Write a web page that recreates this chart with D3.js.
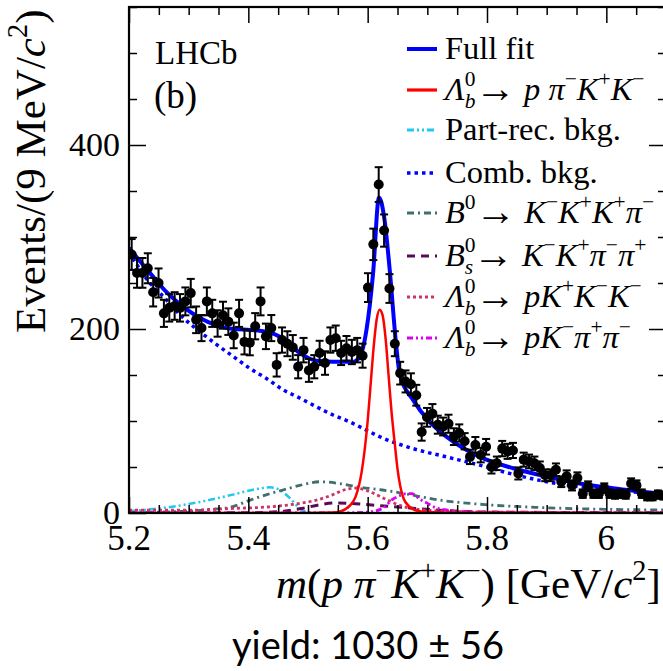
<!DOCTYPE html>
<html><head><meta charset="utf-8">
<script src="https://cdn.jsdelivr.net/npm/d3@7"></script>
<style>body{margin:0;background:#fff}</style>
</head><body>
<svg id="c" width="663" height="671"></svg>
<script>
// ---------------- DATA ----------------
const binStart = 5.2, binWidth = 0.009;
const counts = [281,261,261,266,240,250,217,223,225,223,230,239,210,201,230,217,206,215,208,193,
217,186,185,203,230,192,201,161,188,184,180,159,177,155,159,174,163,188,190,174,
179,175,177,171,245,292,357,307,244,184,152,143,140,128,88,104,108,96,94,97,
83,87,78,61,74,63,72,50,54,70,67,68,43,58,56,54,49,41,41,47,
34,40,30,38,21,29,21,21,27,21,20,21,20,32,30,21,18,18,20,19];

const fullM = [5.20,5.235,5.263,5.291,5.319,5.347,5.375,5.403,5.431,5.458,5.486,5.514,5.542,5.576,5.587,5.598,5.609,5.619,5.628,5.637,5.648,5.654,5.676,5.704,5.732,5.788,5.844,5.900,5.955,6.011,6.10];
const fullV = [288,261,240,224,212,204,200,199,197,190,174,165.5,164.5,164.5,170,199,260,343,320,264,181,150,123,99,83,61,48.6,39.5,32,27,20.5];

const sigM = [5.20,5.50,5.54,5.555,5.57,5.58,5.59,5.60,5.605,5.61,5.615,5.62,5.625,5.63,5.635,5.64,5.645,5.65,5.66,5.67,5.68,5.70,5.75,6.10];
const sigV = [0,0,0.5,2,8,18,45,100,140,180,210,221,215,190,150,110,78,48,16,7,3,1,0.3,0];

const combM = [5.20,5.235,5.252,5.291,5.319,5.347,5.375,5.403,5.431,5.458,5.486,5.514,5.542,5.570,5.592,5.620,5.676,5.732,5.788,5.844,5.900,5.955,6.011,6.10];
const combV = [284,250,239,212,197,183,170,157,146,134,125,115.5,106.5,99,92,83,70,61,52,42,34,28.6,25,19.5];

const partM = [5.20,5.263,5.319,5.374,5.414,5.436,5.453,5.470,5.486,5.50,5.52,6.10];
const partV = [2,6,12,20,26,28,25,16,5,1,0,0];

const b0M = [5.20,5.30,5.33,5.374,5.403,5.431,5.458,5.486,5.520,5.553,5.587,5.625,5.654,5.721,5.799,5.888,6.000,6.10];
const b0V = [0.5,2,3.5,7,14,20,25,30,34,32,28,25,22,14,9,6,4,3.3];

const bsM = [5.20,5.40,5.46,5.49,5.52,5.55,5.58,5.62,5.66,5.72,5.80,6.10];
const bsV = [0,0.3,2,5,9,11,10,8,6,3,1,0.3];

const pkkM = [5.20,5.30,5.374,5.431,5.486,5.514,5.542,5.56,5.58,5.60,5.63,5.66,5.70,5.80,6.10];
const pkkV = [3,3,5,6.5,10.5,14,20,25,27,24,15,7,3,1,0.3];

const pkpM = [5.20,5.55,5.60,5.625,5.642,5.648,5.665,5.674,5.687,5.699,5.713,5.738,5.776,5.85,6.10];
const pkpV = [0,0,1,5,15,17,21,21,15,11,6,3,1,0.3,0];

const xMajor = [5.2,5.4,5.6,5.8,6.0];
const xLabels = ["5.2","5.4","5.6","5.8","6"];
const yMajor = [0,200,400];
const yLabels = ["0","200","400"];

// ---------------- CHART ----------------
const svg = d3.select('#c');
svg.append('rect').attr('width',663).attr('height',671).attr('fill','#fff');
const L=129, R=666, T=7, B=513;
const x = d3.scaleLinear().domain([5.2,6.1]).range([L,R]);
const y = d3.scaleLinear().domain([0,550]).range([B,T]);
const serif = "'Liberation Serif','Times New Roman',serif";

svg.append('clipPath').attr('id','clip').append('rect')
  .attr('x',L).attr('y',T).attr('width',R-L).attr('height',B-T);
const plot = svg.append('g').attr('clip-path','url(#clip)');

function curve(M,V,color,width,dash){
  const pts = M.map((m,i)=>[m,V[i]]);
  plot.append('path').datum(pts)
    .attr('d', d3.line().x(d=>x(d[0])).y(d=>y(d[1])).curve(d3.curveMonotoneX))
    .attr('fill','none').attr('stroke',color).attr('stroke-width',width)
    .attr('stroke-dasharray',dash||null);
}
const styles = {
  full:['#0000ff',4,null],
  sig:['#ff0000',2.5,null],
  part:['#1ec8f0',2.5,'7,3,2,3,2,3'],
  comb:['#0000ff',3.5,'3.5,4'],
  b0:['#3f6f6f',2.8,'7,4,2,4'],
  bs:['#5a0a5a',3,'8,6'],
  pkk:['#cc3366',2.8,'3,3'],
  pkp:['#dd00ee',2.8,'6,3,2,3,2,3']
};
curve(combM,combV,...styles.comb);
curve(partM,partV,...styles.part);
curve(b0M,b0V,...styles.b0);
curve(bsM,bsV,...styles.bs);
curve(pkkM,pkkV,...styles.pkk);
curve(pkpM,pkpV,...styles.pkp);
curve(sigM,sigV,...styles.sig);
curve(fullM,fullV,...styles.full);

// data points
const data = counts.map((c,i)=>({m:binStart+binWidth*(i+0.5), c:c, e:Math.sqrt(c)}));
const dg = plot.append('g');
data.forEach(d=>{
  const cx=x(d.m), y1=y(d.c+d.e), y2=y(d.c-d.e);
  dg.append('line').attr('x1',cx).attr('x2',cx).attr('y1',y1).attr('y2',y2).attr('stroke','#000').attr('stroke-width',2);
  dg.append('line').attr('x1',cx-4).attr('x2',cx+4).attr('y1',y1).attr('y2',y1).attr('stroke','#000').attr('stroke-width',2);
  dg.append('line').attr('x1',cx-4).attr('x2',cx+4).attr('y1',y2).attr('y2',y2).attr('stroke','#000').attr('stroke-width',2);
  dg.append('circle').attr('cx',cx).attr('cy',y(d.c)).attr('r',5).attr('fill','#000');
});

// axes
const xMinor = d3.range(5.2,6.1001,0.05).map(v=>+v.toFixed(2)).filter(v=>!xMajor.some(m=>Math.abs(m-v)<1e-6));
const yMinor = d3.range(0,551,50).filter(v=>!yMajor.includes(v));
function ax(g){ g.selectAll('.domain').remove(); g.selectAll('line').attr('stroke','#000').attr('stroke-width',1.5); g.selectAll('text').remove(); }
svg.append('g').attr('transform',`translate(0,${B})`).call(d3.axisBottom(x).tickValues(xMajor).tickSize(-16)).call(ax);
svg.append('g').attr('transform',`translate(0,${B})`).call(d3.axisBottom(x).tickValues(xMinor).tickSize(-8)).call(ax);
svg.append('g').attr('transform',`translate(0,${T})`).call(d3.axisTop(x).tickValues(xMajor).tickSize(-16)).call(ax);
svg.append('g').attr('transform',`translate(0,${T})`).call(d3.axisTop(x).tickValues(xMinor).tickSize(-8)).call(ax);
svg.append('g').attr('transform',`translate(${L},0)`).call(d3.axisLeft(y).tickValues(yMajor).tickSize(-17)).call(ax);
svg.append('g').attr('transform',`translate(${L},0)`).call(d3.axisLeft(y).tickValues(yMinor).tickSize(-8)).call(ax);
svg.append('g').attr('transform',`translate(${R},0)`).call(d3.axisRight(y).tickValues(yMajor).tickSize(-17)).call(ax);
svg.append('g').attr('transform',`translate(${R},0)`).call(d3.axisRight(y).tickValues(yMinor).tickSize(-8)).call(ax);
svg.append('rect').attr('x',L).attr('y',T).attr('width',R-L).attr('height',B-T).attr('fill','none').attr('stroke','#000').attr('stroke-width',2.2);

// tick labels
xMajor.forEach((v,i)=>svg.append('text').attr('x',x(v)).attr('y',550).attr('text-anchor','middle')
  .attr('font-family',serif).attr('font-size',35).text(xLabels[i]));
yMajor.forEach((v,i)=>svg.append('text').attr('x',120).attr('y',y(v)+11).attr('text-anchor','end')
  .attr('font-family',serif).attr('font-size',34).text(yLabels[i]));

// rich text helper
function rich(t, segs, size){
  let off=0;
  segs.forEach(s=>{
    const k=s.k||'r';
    let base=0, fs=size, it=false;
    if(k==='i') it=true;
    if(k==='u'){ base=-0.42*size; fs=0.66*size; }
    if(k==='id'){ base=0.26*size; fs=0.66*size; it=true; }
    if(k==='arr'){ base=0.05*size; fs=1.25*size; }
    const ts=t.append('tspan').attr('font-size',fs).attr('dy',base-off).text(s.t);
    if(it) ts.attr('font-style','italic');
    if(s.dx) ts.attr('dx',s.dx);
    off=base;
  });
}

// axis titles
const xt = svg.append('text').attr('x',276).attr('y',598).attr('font-family',serif);
rich(xt,[{t:'m',k:'i'},{t:'('},{t:'p',k:'i'},{t:' π',k:'i'},{t:'−',k:'u'},{t:'K',k:'i'},{t:'+',k:'u'},{t:'K',k:'i'},{t:'−',k:'u'},{t:') [GeV/'},{t:'c',k:'i'},{t:'2',k:'u'},{t:']'}],43);

const yt = svg.append('text').attr('transform','translate(45,333) rotate(-90)').attr('text-anchor','start').attr('font-family',serif);
rich(yt,[{t:'Events/(9 MeV/'},{t:'c',k:'i'},{t:'2',k:'u'},{t:')'}],43);

svg.append('text').attr('x',155).attr('y',64).attr('font-family',serif).attr('font-size',33).text('LHCb');
svg.append('text').attr('x',154).attr('y',108).attr('font-family',serif).attr('font-size',37).text('(b)');

svg.append('text').attr('x',368).attr('y',659).attr('text-anchor','middle')
  .attr('font-family',"Lato,'Open Sans',sans-serif").attr('font-size',38).text('yield: 1030 ± 56');

// legend
const LS=32.5, sw=0.66*LS*0.5;
const lam = [{t:'Λ',k:'i'},{t:'0',k:'u'},{t:'b',k:'id',dx:-sw},{t:'→',k:'arr'},{t:' '}];
const legend = [
  {key:'full', segs:[{t:'Full fit'}]},
  {key:'sig', segs:[...lam,{t:'p',k:'i'},{t:' π',k:'i'},{t:'−',k:'u'},{t:'K',k:'i'},{t:'+',k:'u'},{t:'K',k:'i'},{t:'−',k:'u'}]},
  {key:'part', segs:[{t:'Part-rec. bkg.'}]},
  {key:'comb', segs:[{t:'Comb. bkg.'}]},
  {key:'b0', segs:[{t:'B',k:'i'},{t:'0',k:'u'},{t:'→',k:'arr'},{t:' '},{t:'K',k:'i'},{t:'−',k:'u'},{t:'K',k:'i'},{t:'+',k:'u'},{t:'K',k:'i'},{t:'+',k:'u'},{t:'π',k:'i'},{t:'−',k:'u'}]},
  {key:'bs', segs:[{t:'B',k:'i'},{t:'0',k:'u'},{t:'s',k:'id',dx:-sw},{t:'→',k:'arr'},{t:' '},{t:'K',k:'i'},{t:'−',k:'u'},{t:'K',k:'i'},{t:'+',k:'u'},{t:'π',k:'i'},{t:'−',k:'u'},{t:'π',k:'i'},{t:'+',k:'u'}]},
  {key:'pkk', segs:[...lam,{t:'pK',k:'i'},{t:'+',k:'u'},{t:'K',k:'i'},{t:'−',k:'u'},{t:'K',k:'i'},{t:'−',k:'u'}]},
  {key:'pkp', segs:[...lam,{t:'pK',k:'i'},{t:'−',k:'u'},{t:'π',k:'i'},{t:'+',k:'u'},{t:'π',k:'i'},{t:'−',k:'u'}]}
];
const rowY=[49,90,130,173,213,256,297,338];
legend.forEach((it,i)=>{
  const st=styles[it.key];
  svg.append('line').attr('x1',407).attr('x2',437).attr('y1',rowY[i]).attr('y2',rowY[i])
    .attr('stroke',st[0]).attr('stroke-width',Math.max(st[1],3.2)).attr('stroke-dasharray',st[2]);
  const t=svg.append('text').attr('x',445).attr('y',rowY[i]+10).attr('font-family',serif);
  rich(t,it.segs,LS);
});
</script>
</body></html>
